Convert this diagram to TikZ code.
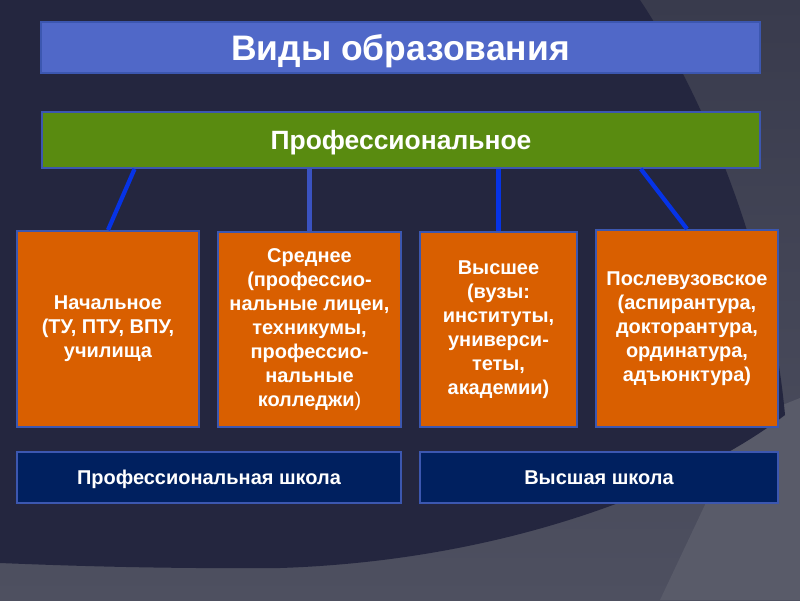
\documentclass[tikz,border=0pt]{standalone}
\usepackage{fontspec}
\setmainfont{Liberation Sans}
\usetikzlibrary{calc}

\definecolor{navybg}{HTML}{24263F}
\definecolor{greytop}{HTML}{393B4D}
\definecolor{greybot}{HTML}{4E5060}
\definecolor{greylight}{HTML}{595B69}
\definecolor{titleblue}{HTML}{5068C8}
\definecolor{profgreen}{HTML}{598B10}
\definecolor{levelorange}{HTML}{D95F00}
\definecolor{schoolblue}{HTML}{00205F}
\definecolor{boxedge}{HTML}{3C57B0}
\definecolor{linkblue}{HTML}{0633E6}
\definecolor{linkdim}{HTML}{3A52C0}

\tikzset{
	box/.style = {draw = boxedge, line width = 1.4pt, inner sep = 0pt, text = white, align = center},
	titlebox/.style = {box, fill = titleblue, text depth = 0pt, font = \fontsize{25.2}{30}\selectfont\bfseries},
	profbox/.style = {box, fill = profgreen, text depth = 0pt, font = \fontsize{18.8}{22}\selectfont\bfseries},
	levelbox/.style = {box, fill = levelorange, font = \fontsize{14.2}{17}\selectfont\bfseries},
	schoolbox/.style = {box, fill = schoolblue, text depth = 0pt, font = \fontsize{14.2}{17}\selectfont\bfseries},
	link/.style = {linkblue, line width = 3pt},
}

\begin{document}
\begin{tikzpicture}[x = 0.025cm, y = -0.025cm]
	\useasboundingbox (0, 0) rectangle (800, 600);
	\shade[top color = greytop, bottom color = greybot] (0, 0) rectangle (800, 600);
	\fill[greylight] (745, 420) -- (800, 398) -- (800, 600) -- (660, 600) -- cycle;
	\fill[navybg] (0, 0) -- (640, 0) .. controls (700, 90) and (770, 250) .. (785, 415)
		.. controls (700, 480) and (520, 560) .. (280, 568)
		.. controls (150, 569) and (50, 565) .. (0, 563) -- cycle;

	\node[titlebox, minimum width = 17.975cm, minimum height = 1.275cm] (vidy) at (400.5, 47.5) {Виды образования};
	\node[profbox, minimum width = 17.95cm, minimum height = 1.4cm] (prof) at (401, 140) {Профессиональное};

	\node[levelbox, minimum width = 4.55cm, minimum height = 4.9cm] (nach) at (108, 329)
		{Начальное\\(ТУ, ПТУ, ВПУ,\\училища};
	\node[levelbox, minimum width = 4.575cm, minimum height = 4.875cm] (sred) at (309.5, 329.5)
		{Среднее\\(профессио-\\нальные лицеи,\\техникумы,\\профессио-\\нальные\\колледжи\textmd{)}};
	\node[levelbox, minimum width = 3.925cm, minimum height = 4.875cm] (vyssh) at (498.5, 329.5)
		{Высшее\\(вузы:\\институты,\\универси-\\теты,\\академии)};
	\node[levelbox, minimum width = 4.55cm, minimum height = 4.925cm] (posle) at (687, 328.5)
		{Послевузовское\\(аспирантура,\\докторантура,\\ординатура,\\адъюнктура)};

	\node[schoolbox, minimum width = 9.6cm, minimum height = 1.275cm] (profsch) at (209, 477.5) {Профессиональная школа};
	\node[schoolbox, minimum width = 8.95cm, minimum height = 1.275cm] (vyssch) at (599, 477.5) {Высшая школа};

	\draw[link] ($(prof.south west)!0.13!(prof.south east)$) -- (nach.north);
	\draw[link, linkdim] (sred.north |- prof.south) -- (sred.north);
	\draw[link] (vyssh.north |- prof.south) -- (vyssh.north);
	\draw[link] ($(prof.south west)!0.833!(prof.south east)$) -- (posle.north);
\end{tikzpicture}
\end{document}
